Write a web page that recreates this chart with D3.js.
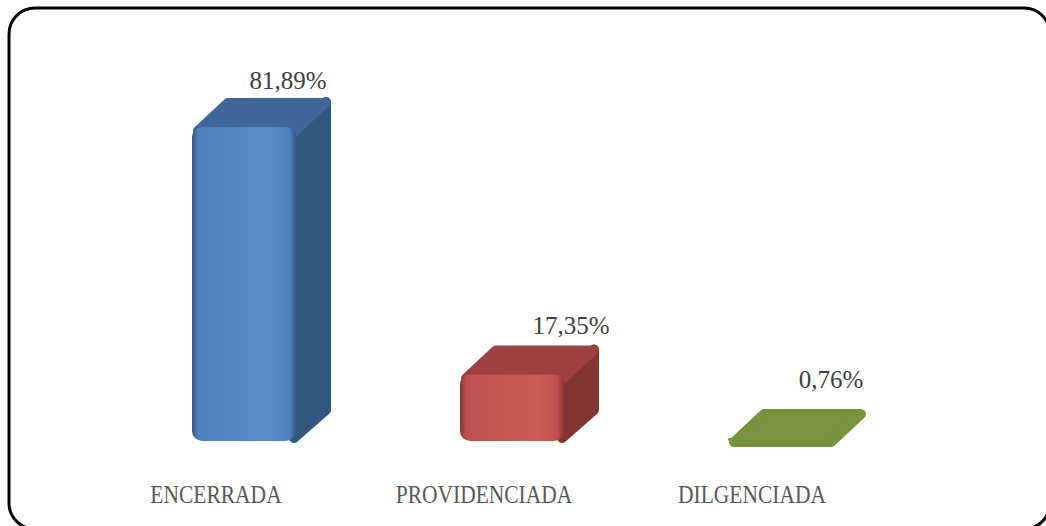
<!DOCTYPE html>
<html>
<head>
<meta charset="utf-8">
<script src="https://cdn.jsdelivr.net/npm/d3@7"></script>
<style>
  body { margin: 0; background: #fff; }
  svg { display: block; }
</style>
</head>
<body>
<div id="chart"></div>
<script>
// data
var categories = ['ENCERRADA', 'PROVIDENCIADA', 'DILGENCIADA']
var values = [81.89, 17.35, 0.76]
var valueLabels = ['81,89%', '17,35%', '0,76%']

var width = 1046
var height = 526

// face colours per bar: front, front light, side, top
var palette = [
  { front: '#4f81bd', light: '#5a8cc8', side: '#34577f', top: '#3f6898' },
  { front: '#c0504d', light: '#cc5c58', side: '#843533', top: '#9e413e' },
  { front: '#76923c', light: '#7f9c42', side: '#5a7030', top: '#77943c' }
]

var svg = d3.select('#chart')
  .append('svg')
  .attr('width', width)
  .attr('height', height)

// outer rounded frame
svg.append('rect')
  .attr('x', 9)
  .attr('y', 8)
  .attr('width', 1041)
  .attr('height', 521)
  .attr('rx', 26)
  .attr('fill', 'white')
  .attr('stroke', 'black')
  .attr('stroke-width', 3)

var xScale = d3.scaleBand()
  .domain(categories)
  .range([82, 886])

var yScale = d3.scaleLinear()
  .domain([0, 81.89])
  .range([441, 127])

var depthX = 31
var depthY = -28
var frontOffset = -22
var frontWidth = 104

var defs = svg.append('defs')
palette.forEach(function(p, i) {
  var g = defs.append('linearGradient')
    .attr('id', 'front-' + i)
    .attr('x1', 0).attr('x2', 1).attr('y1', 0).attr('y2', 0)
  g.append('stop').attr('offset', '0%').attr('stop-color', p.side)
  g.append('stop').attr('offset', '6%').attr('stop-color', p.front)
  g.append('stop').attr('offset', '75%').attr('stop-color', p.light)
  g.append('stop').attr('offset', '94%').attr('stop-color', p.front)
  g.append('stop').attr('offset', '100%').attr('stop-color', p.side)
})

var bars = svg.selectAll('g.bar')
  .data(categories)
  .enter()
  .append('g')
  .attr('class', 'bar')

// side face (skipped when the bar is nearly flat)
bars.filter((d, i) => yScale(0) - yScale(values[i]) > 8)
  .append('path')
  .attr('d', function(d) {
    var i = categories.indexOf(d)
    var x0 = xScale(d) + xScale.bandwidth() / 2 + frontOffset
    var x1 = x0 + frontWidth
    var yt = yScale(values[i])
    var yb = yScale(0)
    return `M${x1 - 4},${yt + 2} L${x1 + depthX - 3},${yt + depthY + 3} L${x1 + depthX - 3},${yb + depthY - 3} L${x1 - 4},${yb - 3} Z`
  })
  .attr('fill', d => palette[categories.indexOf(d)].side)
  .attr('stroke', d => palette[categories.indexOf(d)].side)
  .attr('stroke-width', 10)
  .attr('stroke-linejoin', 'round')

// top face
bars.append('path')
  .attr('d', function(d, i) {
    var x0 = xScale(d) + xScale.bandwidth() / 2 + frontOffset
    var x1 = x0 + frontWidth
    var yt = yScale(values[i])
    return `M${x0 + 4},${yt + 4} L${x1 - 3},${yt + 4} L${x1 + depthX - 4},${yt + depthY + 4} L${x0 + depthX + 3},${yt + depthY + 4} Z`
  })
  .attr('fill', (d, i) => palette[i].top)
  .attr('stroke', (d, i) => palette[i].top)
  .attr('stroke-width', 10)
  .attr('stroke-linejoin', 'round')

// front face
bars.append('rect')
  .attr('x', d => xScale(d) + xScale.bandwidth() / 2 + frontOffset - 2)
  .attr('y', (d, i) => yScale(values[i]))
  .attr('width', frontWidth)
  .attr('height', (d, i) => Math.max(0, yScale(0) - yScale(values[i])))
  .attr('rx', (d, i) => Math.min(10, (yScale(0) - yScale(values[i])) / 2))
  .attr('fill', (d, i) => yScale(0) - yScale(values[i]) > 8 ? `url(#front-${i})` : palette[i].top)

// value labels
svg.selectAll('text.value')
  .data(categories)
  .enter()
  .append('text')
  .attr('class', 'value')
  .attr('x', (d, i) => xScale(d) + xScale.bandwidth() / 2 + [72, 87, 79][i])
  .attr('y', (d, i) => yScale(values[i]) + depthY - [10, 12, 22][i])
  .attr('text-anchor', 'middle')
  .style('font-family', '"Liberation Serif", serif')
  .style('font-size', '25px')
  .style('fill', '#404040')
  .text((d, i) => valueLabels[i])

// category labels
svg.selectAll('text.category')
  .data(categories)
  .enter()
  .append('text')
  .attr('class', 'category')
  .attr('transform', d => `translate(${xScale(d) + xScale.bandwidth() / 2},503) scale(0.86,1)`)
  .attr('text-anchor', 'middle')
  .style('font-family', '"Liberation Serif", serif')
  .style('font-size', '25px')
  .style('fill', '#595959')
  .text(d => d)
</script>
</body>
</html>
